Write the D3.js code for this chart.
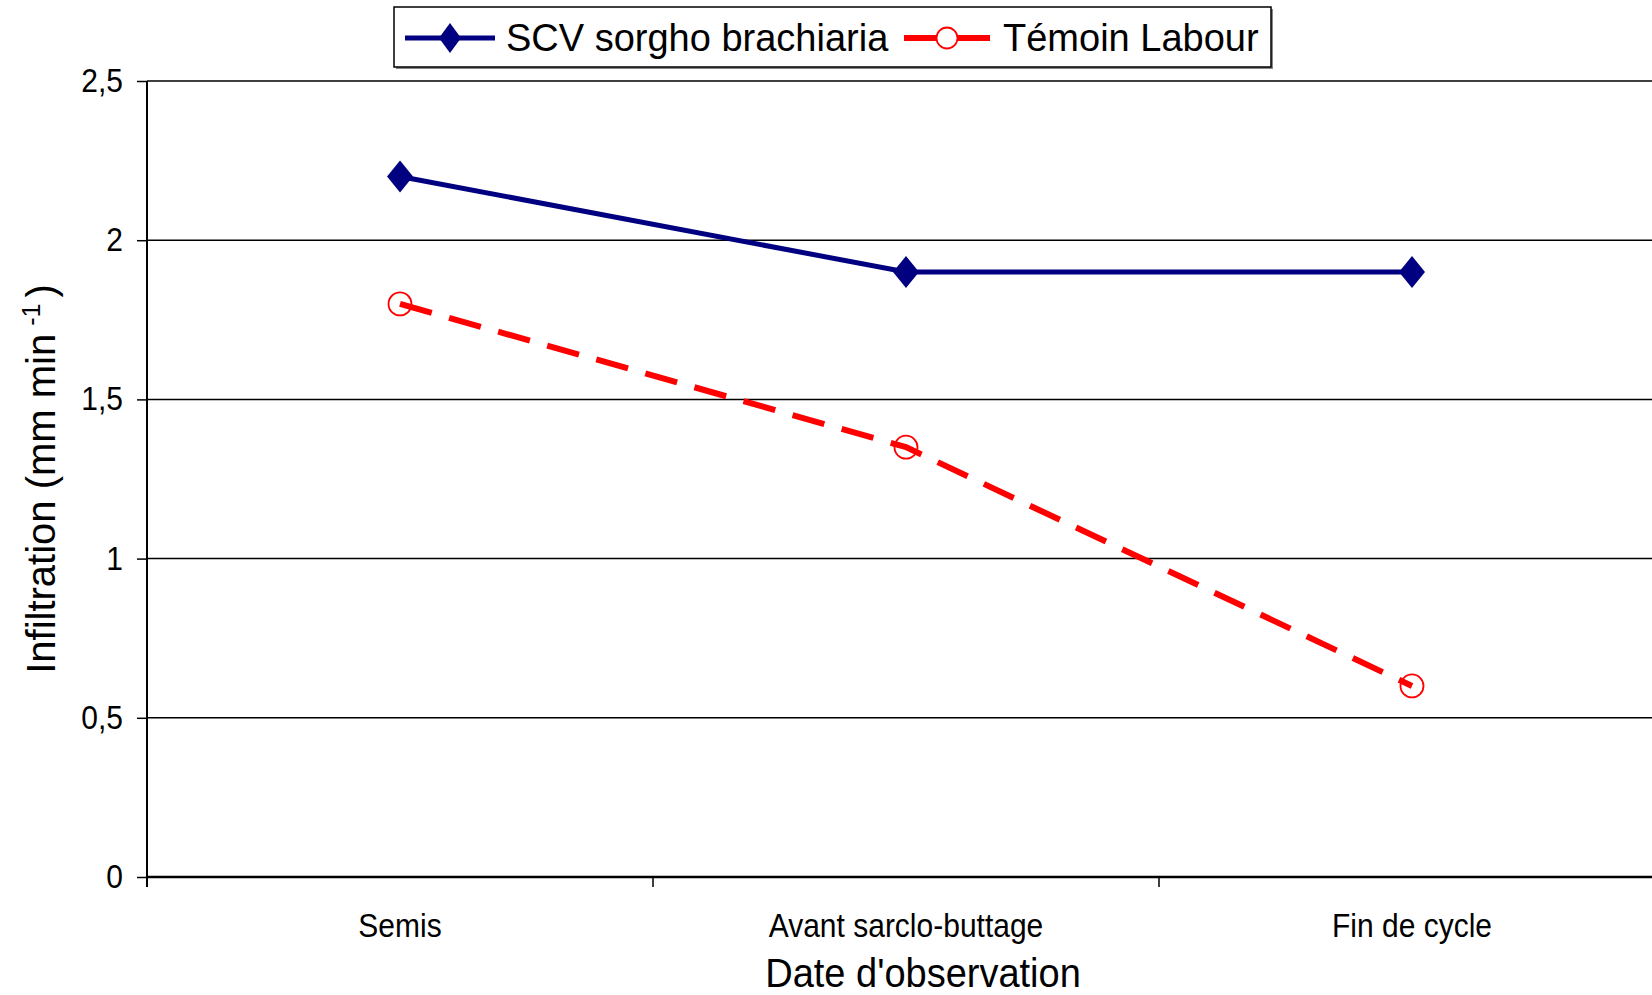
<!DOCTYPE html>
<html>
<head>
<meta charset="utf-8">
<script src="https://cdn.jsdelivr.net/npm/d3@7"></script>
<style>
    html, body { margin: 0; padding: 0; background: #fff; overflow: hidden; }
    svg { display: block; font-family: Arial, "Liberation Sans", sans-serif; }
</style>
</head>
<body>
<div id="chart"></div>
<script>
// values
var categories = ["Semis", "Avant sarclo-buttage", "Fin de cycle"];
var seriesNames = ["SCV sorgho brachiaria", "Témoin Labour"];
var scvValues = [2.2, 1.9, 1.9];
var temoinValues = [1.8, 1.35, 0.6];
var yTicks = [0, 0.5, 1, 1.5, 2, 2.5];
var yTickLabels = ["0", "0,5", "1", "1,5", "2", "2,5"];

(function () {
    "use strict";

    var width = 1652,
        height = 995,
        margin = { top: 81, left: 147, bottom: 118 },
        plotWidth = 1518, // runs past the right edge, as in the reference
        plotBottom = height - margin.bottom,
        navy = "#000080",
        red = "#ff0000",
        svg, x, y, line, plot, legend;

    svg = d3.select("#chart")
        .append("svg")
        .attr("width", width)
        .attr("height", height);

    x = d3.scaleBand()
        .domain(categories)
        .range([margin.left, margin.left + plotWidth]);

    y = d3.scaleLinear()
        .domain([0, 2.5])
        .range([plotBottom, margin.top]);

    function cx(d, i) {
        return x(categories[i]) + x.bandwidth() / 2;
    }

    // horizontal grid lines
    svg.append("g")
        .selectAll("line")
        .data(yTicks)
        .enter()
        .append("line")
        .attr("x1", margin.left)
        .attr("x2", margin.left + plotWidth)
        .attr("y1", function (d) { return y(d); })
        .attr("y2", function (d) { return y(d); })
        .attr("stroke", "#000")
        .attr("stroke-width", 1.5);

    // y axis
    var yAxis = d3.axisLeft(y)
        .tickValues(yTicks)
        .tickSize(10)
        .tickPadding(14)
        .tickFormat(function (d, i) { return yTickLabels[i]; });

    svg.append("g")
        .attr("class", "y axis")
        .attr("transform", "translate(" + margin.left + ",0)")
        .call(yAxis)
        .call(function (g) {
            g.select(".domain").attr("stroke", "#000").attr("stroke-width", 2)
                .attr("d", "M0," + (plotBottom + 10) + "V" + margin.top);
            g.selectAll(".tick line").attr("stroke", "#000").attr("stroke-width", 1.5);
            g.selectAll(".tick text")
                .attr("fill", "#000")
                .attr("transform", "scale(1,1.1)")
                .style("font-size", "30px")
                .style("font-family", "Arial, 'Liberation Sans', sans-serif");
        });

    // x axis: ticks sit between categories
    svg.append("line")
        .attr("x1", margin.left)
        .attr("x2", margin.left + plotWidth)
        .attr("y1", plotBottom)
        .attr("y2", plotBottom)
        .attr("stroke", "#000")
        .attr("stroke-width", 2.5);

    svg.append("g")
        .selectAll("line")
        .data(categories)
        .enter()
        .append("line")
        .attr("x1", function (d) { return x(d); })
        .attr("x2", function (d) { return x(d); })
        .attr("y1", plotBottom)
        .attr("y2", plotBottom + 10)
        .attr("stroke", "#000")
        .attr("stroke-width", 1.5);

    svg.append("g")
        .selectAll("text")
        .data(categories)
        .enter()
        .append("text")
        .attr("transform", function (d, i) {
            return "translate(" + cx(d, i) + "," + (plotBottom + 60) + ") scale(1,1.12)";
        })
        .attr("text-anchor", "middle")
        .style("font-size", "30px")
        .text(function (d) { return d; });

    // axis titles
    svg.append("text")
        .attr("transform", "translate(923,987) scale(1,1.05)")
        .attr("text-anchor", "middle")
        .style("font-size", "38px")
        .text("Date d'observation");

    var yTitle = svg.append("text")
        .attr("transform", "translate(55,479) rotate(-90)")
        .attr("text-anchor", "middle")
        .style("font-size", "40px");
    yTitle.append("tspan").text("Infiltration (mm min");
    yTitle.append("tspan").attr("dx", 8).attr("dy", -15).style("font-size", "25px").text("-1");
    yTitle.append("tspan").attr("dx", 6).attr("dy", 15).text(")");

    line = d3.line()
        .x(cx)
        .y(function (d) { return y(d); });

    plot = svg.append("g").attr("class", "series");

    // red series: open circles, dashed line on top
    plot.selectAll("circle.temoin")
        .data(temoinValues)
        .enter()
        .append("circle")
        .attr("class", "temoin")
        .attr("cx", cx)
        .attr("cy", function (d) { return y(d); })
        .attr("r", 11.5)
        .attr("fill", "#fff")
        .attr("stroke", red)
        .attr("stroke-width", 1.8);

    plot.append("path")
        .datum(temoinValues)
        .attr("d", line)
        .attr("fill", "none")
        .attr("stroke", red)
        .attr("stroke-width", 6)
        .attr("stroke-dasharray", "33,18");

    // navy series: solid line with diamonds
    plot.append("path")
        .datum(scvValues)
        .attr("d", line)
        .attr("fill", "none")
        .attr("stroke", navy)
        .attr("stroke-width", 5);

    function diamond(w, h) {
        return "M0," + (-h) + "L" + w + ",0L0," + h + "L" + (-w) + ",0Z";
    }

    plot.selectAll("path.scv")
        .data(scvValues)
        .enter()
        .append("path")
        .attr("class", "scv")
        .attr("transform", function (d, i) { return "translate(" + cx(d, i) + "," + y(d) + ")"; })
        .attr("d", diamond(13, 16))
        .attr("fill", navy);

    // legend
    legend = svg.append("g").attr("class", "legend");

    legend.append("rect")
        .attr("x", 396)
        .attr("y", 9)
        .attr("width", 877)
        .attr("height", 60)
        .attr("fill", "#888");

    legend.append("rect")
        .attr("x", 394)
        .attr("y", 7)
        .attr("width", 877)
        .attr("height", 60)
        .attr("fill", "#fff")
        .attr("stroke", "#000")
        .attr("stroke-width", 1.5);

    legend.append("line")
        .attr("x1", 405).attr("x2", 495)
        .attr("y1", 38).attr("y2", 38)
        .attr("stroke", navy)
        .attr("stroke-width", 5);

    legend.append("path")
        .attr("transform", "translate(450,38)")
        .attr("d", diamond(11, 15))
        .attr("fill", navy);

    legend.append("text")
        .attr("x", 506)
        .attr("y", 51)
        .style("font-size", "38px")
        .text(seriesNames[0]);

    legend.append("line")
        .attr("x1", 904).attr("x2", 990)
        .attr("y1", 38).attr("y2", 38)
        .attr("stroke", red)
        .attr("stroke-width", 6);

    legend.append("circle")
        .attr("cx", 947)
        .attr("cy", 38)
        .attr("r", 10.5)
        .attr("fill", "#fff")
        .attr("stroke", red)
        .attr("stroke-width", 1.8);

    legend.append("text")
        .attr("x", 1003)
        .attr("y", 51)
        .style("font-size", "38px")
        .text(seriesNames[1]);
}());
</script>
</body>
</html>
